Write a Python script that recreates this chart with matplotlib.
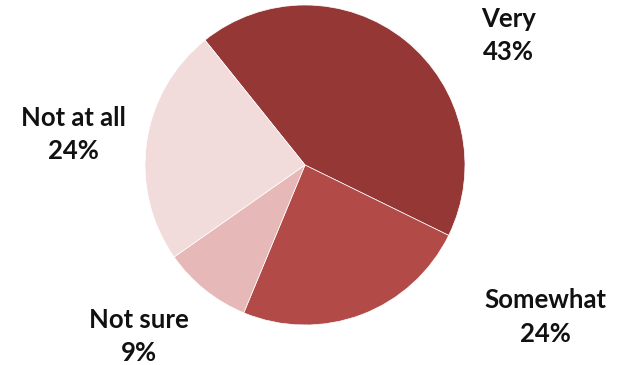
import matplotlib.pyplot as plt

labels = ["Very", "Somewhat", "Not sure", "Not at all"]
values = [43, 24, 9, 24]
colors = ["#953735", "#B24B48", "#E6B9B8", "#F2DCDB"]
# label anchor positions (pie radius = 1)
label_pos = [(1.27, 0.81), (1.50, -0.95), (-1.04, -1.07), (-1.45, 0.19)]

fig = plt.figure(figsize=(6.33, 3.65), dpi=100)
ax = fig.add_axes([0, 0, 1, 1])

ax.pie(values, colors=colors, startangle=128.7, counterclock=False,
       radius=1.0, wedgeprops=dict(edgecolor="white", linewidth=0.5))

for lab, v, (x, y) in zip(labels, values, label_pos):
    ax.text(x, y, f"{lab}\n{v}%", ha="center", va="center",
            fontsize=18.5, fontweight="bold", family="Lato",
            color="#111111", linespacing=1.45)

ax.set_xlim(-305 / 160, (633 - 305) / 160)
ax.set_ylim((165 - 365) / 160, 165 / 160)
ax.set_aspect("auto")
ax.axis("off")

fig.savefig("out.png", dpi=100)
